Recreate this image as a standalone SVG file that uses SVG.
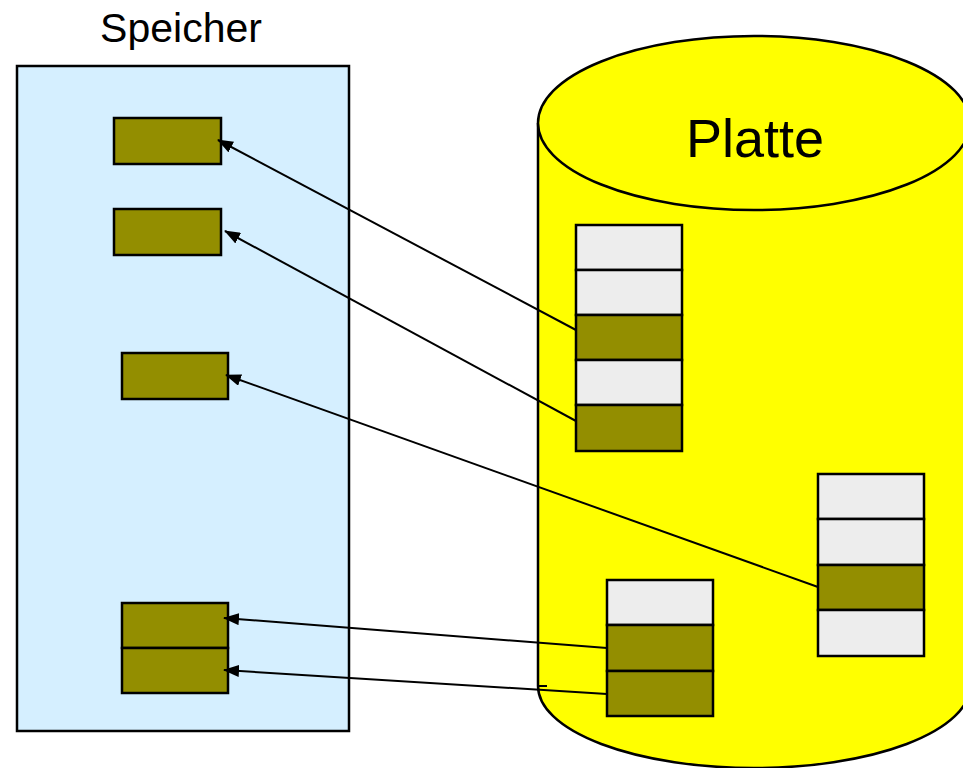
<svg xmlns="http://www.w3.org/2000/svg" width="963" height="768" viewBox="0 0 963 768">
<style>
.lbl{font-family:"Liberation Sans",Arial,sans-serif;fill:#000}
.blk{stroke:#000;stroke-width:2.5}
.full{fill:#938E00}
.empty{fill:#EDEDED}
.conn{stroke:#000;stroke-width:2;fill:none;marker-end:url(#ah)}
</style>
<defs>
<marker id="ah" markerUnits="userSpaceOnUse" markerWidth="16" markerHeight="12" viewBox="0 0 16 12" refX="15" refY="6" orient="auto">
<path d="M0,0 L16,6 L0,12 Z" fill="#000"/>
</marker>
</defs>
<rect width="963" height="768" fill="#fff"/>
<g id="speicher">
<rect x="17" y="66" width="332" height="665" fill="#D5EFFF" stroke="#000" stroke-width="2.5"/>
<text class="lbl" x="181" y="42" font-size="41" text-anchor="middle">Speicher</text>
<rect class="blk full" x="114" y="118" width="107" height="46"/>
<rect class="blk full" x="114" y="209" width="107" height="46"/>
<rect class="blk full" x="122" y="353" width="106" height="46"/>
<rect class="blk full" x="122" y="603" width="106" height="45"/>
<rect class="blk full" x="122" y="648" width="106" height="45"/>
</g>
<g id="platte">
<path d="M538,123 L538,686 A216,82 0 0 0 970,686 L970,123 Z" fill="#FFFF00"/>
<path d="M538,123 L538,686 A216,82 0 0 0 970,686" fill="none" stroke="#000" stroke-width="2.5"/>
<line x1="538" y1="686" x2="547" y2="686" stroke="#000" stroke-width="2"/>
<ellipse cx="754" cy="123" rx="216" ry="87" fill="#FFFF00" stroke="#000" stroke-width="2.5"/>
<text class="lbl" x="755" y="157" font-size="54" text-anchor="middle">Platte</text>
</g>
<g id="stack1">
<rect class="blk empty" x="576" y="225" width="106" height="45"/>
<rect class="blk empty" x="576" y="270" width="106" height="45"/>
<rect class="blk full" x="576" y="315" width="106" height="45"/>
<rect class="blk empty" x="576" y="360" width="106" height="45"/>
<rect class="blk full" x="576" y="405" width="106" height="46"/>
</g>
<g id="stack2">
<rect class="blk empty" x="818" y="474" width="106" height="45"/>
<rect class="blk empty" x="818" y="519" width="106" height="46"/>
<rect class="blk full" x="818" y="565" width="106" height="45"/>
<rect class="blk empty" x="818" y="610" width="106" height="46"/>
</g>
<g id="stack3">
<rect class="blk empty" x="607" y="580" width="106" height="45"/>
<rect class="blk full" x="607" y="625" width="106" height="46"/>
<rect class="blk full" x="607" y="671" width="106" height="45"/>
</g>
<g id="connectors">
<line class="conn" x1="576" y1="330" x2="218" y2="140"/>
<line class="conn" x1="576" y1="421" x2="225" y2="231"/>
<line class="conn" x1="818" y1="587" x2="226" y2="375"/>
<line class="conn" x1="607" y1="648" x2="224" y2="618"/>
<line class="conn" x1="607" y1="694" x2="224" y2="670"/>
</g>
</svg>
